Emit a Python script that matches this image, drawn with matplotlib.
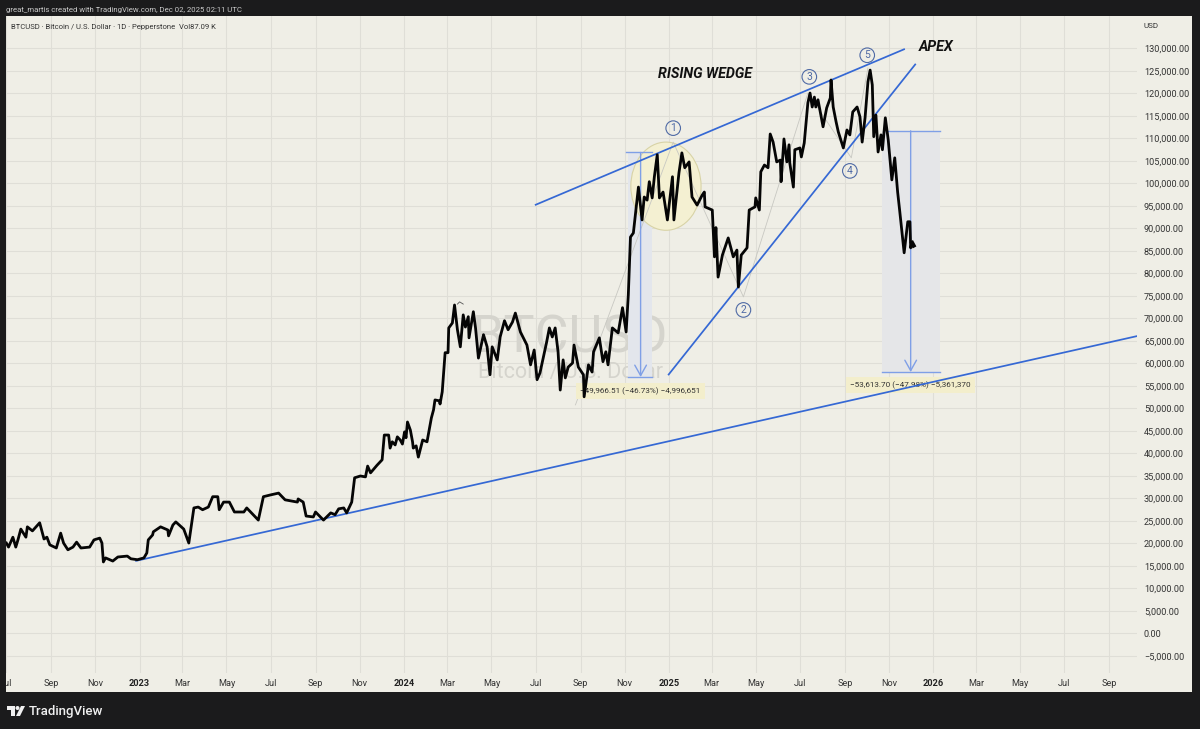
import numpy as np
import matplotlib
matplotlib.use("Agg")
import matplotlib.pyplot as plt
import matplotlib.dates as mdates
from matplotlib.patches import Ellipse, Rectangle, Polygon
from matplotlib.transforms import Bbox

# ---------- data (days since 2023-01-01, price in thousand USD) ----------
days = [-184,-181,-175,-171,-168,-164,-157,-155,-148,-138,-132,-128,-124,-115,-109,-105,-99,-92,-87,-81,-69,-63,-55,-52,-50,-47,-37,-30,-17,-12,-3,6,10,12,18,19,29,39,40,46,50,61,68,75,81,87,95,101,108,110,116,124,131,144,148,164,171,181,192,201,218,219,226,230,240,243,254,264,270,275,282,286,293,297,305,312,315,319,328,335,338,344,346,349,353,356,360,363,366,368,370,374,377,378,382,385,391,397,403,406,408,414,415,418,422,426,427,432,435,439,443,447,450,454,455,461,464,468,475,480,484,487,494,498,504,509,515,519,526,535,540,545,549,553,562,566,570,574,578,581,585,588,592,598,600,606,613,614,620,625,627,635,640,644,647,653,661,667,672,675,678,682,684,689,694,697,701,704,708,711,715,718,723,729,736,738,745,749,753,759,763,770,777,780,781,791,794,796,799,805,813,820,825,827,831,839,842,850,851,856,858,863,868,871,875,880,885,886,890,894,897,898,903,905,912,914,918,923,926,929,932,934,937,944,949,954,955,958,962,965,972,977,981,985,991,995,998,1002,1006,1009,1012,1014,1017,1020,1024,1026,1030,1034,1039,1043,1047,1050,1056,1061,1064,1065,1067,1069]
price_k = [20.1,19.2,21.4,19.2,20.8,23.2,21.4,23.7,22.8,24.6,21.0,21.4,19.7,19.0,22.3,20.1,18.6,19.2,20.3,19.0,19.2,20.8,21.2,20.1,15.9,16.8,16.1,17.0,17.2,16.6,16.4,16.8,17.9,20.8,21.9,22.6,23.7,23.0,21.7,24.1,24.8,23.2,20.1,27.9,28.1,27.5,28.1,30.4,30.4,27.5,29.2,29.2,27.0,27.0,27.9,25.2,30.4,30.8,31.2,29.7,29.2,29.9,29.2,26.1,25.9,27.0,25.2,26.8,26.4,27.7,27.9,26.8,29.2,34.6,35.0,34.8,37.2,35.7,37.4,38.6,44.1,44.1,41.2,42.6,41.9,43.7,43.0,42.1,44.8,43.5,47.0,45.2,42.6,41.2,41.7,39.2,43.0,42.6,47.9,49.7,51.9,51.7,51.0,53.7,62.4,62.4,67.9,69.0,73.0,67.5,63.7,70.8,68.1,70.4,65.7,71.5,67.9,61.2,66.4,63.7,57.5,63.7,60.8,65.9,69.5,67.5,69.2,71.2,67.0,64.1,59.7,63.0,56.4,57.9,64.6,67.9,65.9,67.9,62.6,54.1,60.8,56.8,59.2,60.1,64.1,59.2,57.5,52.6,59.7,58.1,62.6,65.7,60.4,62.6,59.7,67.9,66.8,72.4,67.0,75.2,88.1,89.0,91.9,99.2,91.9,97.0,96.3,100.4,96.8,101.5,106.4,96.8,98.1,91.9,101.5,91.9,102.4,106.8,103.5,104.8,97.0,95.2,97.4,98.1,94.8,94.1,83.7,90.2,79.2,84.1,87.9,83.7,85.2,77.0,84.1,85.7,94.1,94.8,96.8,94.1,102.6,104.1,103.5,111.0,109.2,104.8,105.2,100.4,109.9,104.8,108.6,104.6,99.2,107.5,107.9,105.9,109.0,117.9,120.1,117.0,119.2,117.0,118.6,112.6,116.8,119.0,123.0,117.0,113.7,111.5,107.9,111.9,110.8,115.9,117.0,114.8,109.2,114.6,122.6,125.2,121.9,110.4,115.2,107.0,110.8,107.5,114.6,109.7,100.8,105.7,98.1,93.7,84.6,91.5,91.5,85.7,86.8,86.2]

support_days, support_k = [-6, 1378], [16.1, 66.1]
upper_days, upper_k = [546, 1057], [95.2, 129.9]
lower_days, lower_k = [730, 1072], [57.4, 126.6]
wave_days = [602, 737, 834, 923, 983, 1006]
wave_k = [50.8, 109.2, 74.8, 120.1, 105.7, 125.7]
wave_labels = ["1", "2", "3", "4", "5"]
wave_label_days = [737, 834, 925, 981, 1005]
wave_label_k = [112.3, 71.9, 123.7, 102.8, 128.5]
caret_days, caret_k = [439, 442, 447], [73.2, 73.7, 73.2]

price_ticks = list(range(-5000, 130001, 5000))
tick_dates = ["2022-07-01","2022-09-01","2022-11-01","2023-01-01","2023-03-01","2023-05-01","2023-07-01","2023-09-01","2023-11-01","2024-01-01","2024-03-01","2024-05-01","2024-07-01","2024-09-01","2024-11-01","2025-01-01","2025-03-01","2025-05-01","2025-07-01","2025-09-01","2025-11-01","2026-01-01","2026-03-01","2026-05-01","2026-07-01","2026-09-01"]
tick_names = ["Jul","Sep","Nov","2023","Mar","May","Jul","Sep","Nov","2024","Mar","May","Jul","Sep","Nov","2025","Mar","May","Jul","Sep","Nov","2026","Mar","May","Jul","Sep"]

# ---------- style ----------
W, H = 1200, 729
DARK = "#1b1b1c"; PANEL = "#efeee6"; GRID = "#dfded7"; BLUE = "#3568d4"; MEAS = "#7f9fe6"
TXT = "#333333"; NODE = "#4f6aa5"
plt.rcParams["font.family"] = ["Roboto", "DejaVu Sans"]

base = mdates.date2num(np.datetime64("2023-01-01"))
X = lambda d: base + np.asarray(d, dtype=float)
fig = plt.figure(figsize=(W/100, H/100), dpi=100, facecolor=DARK)
px = lambda x0, y0, x1, y1: [x0/W, 1-y1/H, (x1-x0)/W, (y1-y0)/H]

fig.patches.append(Rectangle((6/W, 1-692/H), 1186/W, 676/H, transform=fig.transFigure, fc=PANEL, ec="none", zorder=-5))
ax = fig.add_axes(px(6, 16, 1137, 673), facecolor=PANEL)
ax.set_xlim(X(-184.5), X(1377.6))
ax.set_ylim(-8.78, 137.22)
for s in ax.spines.values():
    s.set_visible(False)
ax.set_axisbelow(True)
ax.grid(True, color=GRID, lw=0.8)

ax.yaxis.tick_right()
ax.set_yticks([p/1000 for p in price_ticks])
ax.set_yticklabels([f"{p:,.2f}".replace("-", "\u2212") for p in price_ticks], fontsize=6.6, color=TXT)
ax.set_xticks(mdates.date2num(np.array(tick_dates, dtype="datetime64[D]")))
ax.set_xticklabels(tick_names, fontsize=6.6, color=TXT)
ax.tick_params(axis="both", length=0)
ax.tick_params(axis="y", pad=5)
ax.tick_params(axis="x", pad=4.5)
for lab, name in zip(ax.get_xticklabels(), tick_names):
    if name.isdigit():
        lab.set_fontweight("bold"); lab.set_color("#222222")
first = ax.get_xticklabels()[0]
first.set_clip_box(Bbox([[6, 0], [60, H]]))
first.set_clip_on(True)

# watermark
ax.text(X(595), 65.6, "BTCUSD", fontsize=37.5, color="#d5d4cd", ha="center", va="center", zorder=1)
ax.text(X(595), 58.0, "Bitcoin / U.S. Dollar", fontsize=15.5, color="#d5d4cd", ha="center", va="center", zorder=1)

# measure tools
def measure(d0, d1, dmid, top, bottom, line0, shade, label, ldays, lk):
    ax.add_patch(Rectangle((X(d0), bottom), d1-d0, top-bottom, fc=shade, ec="none", zorder=1.5))
    ax.plot(X([line0, d1]), [top, top], color=MEAS, lw=1.0, zorder=3)
    ax.plot(X([d0, d1]), [bottom, bottom], color=MEAS, lw=1.0, zorder=3)
    ax.annotate("", xy=(X(dmid), bottom), xytext=(X(dmid), top), zorder=3,
                arrowprops=dict(arrowstyle="->,head_width=0.42,head_length=0.75", color=MEAS, lw=1.0, shrinkA=0, shrinkB=0))
    ax.text(X(ldays), lk, label, fontsize=5.9, color=TXT, ha="center", va="center", zorder=2.5,
            bbox=dict(fc="#f3eecc", ec="none", boxstyle="square,pad=0.55"))

measure(674, 708, 692, 106.9, 57.0, 672, "#e3e6ec",
        "\u221249,966.51 (\u221246.73%) \u22124,996,651", 692, 53.9)
measure(1026, 1105, 1065, 111.7, 58.1, 1033, "#e5e6e8",
        "\u221253,613.70 (\u221247.98%) \u22125,361,370", 1065, 55.2)

# highlighted ellipse
ax.add_patch(Ellipse((X(727), 99.4), 97, 19.6, fc="#f4f0d2", ec="#d8d3a6", lw=0.8, zorder=1.8))

# wave lines and labels
ax.plot(X(wave_days), wave_k, color="#c8c8c2", lw=0.6, zorder=2)
ax.plot(X(caret_days), caret_k, color="#555555", lw=0.6, zorder=2)
for lbl, d, k in zip(wave_labels, wave_label_days, wave_label_k):
    ax.text(X(d), k, lbl, fontsize=7.5, color=NODE, ha="center", va="center", zorder=5,
            bbox=dict(boxstyle="circle,pad=0.22", fc="none", ec=NODE, lw=0.8))

# trend lines
for dd, kk in [(support_days, support_k), (upper_days, upper_k), (lower_days, lower_k)]:
    ax.plot(X(dd), kk, color=BLUE, lw=1.25, zorder=3.5, solid_capstyle="butt")

# price
ax.plot(X(days), price_k, color="#050505", lw=2.0, zorder=4, solid_joinstyle="round")
ax.plot(X(days[-2:]), price_k[-2:], color="#050505", lw=3, zorder=4)

# annotations
ax.text(X(781), 124.4, "RISING WEDGE", fontsize=10.3, fontweight="bold", style="italic", color="#111111", ha="center", va="center", zorder=5)
ax.text(X(1100), 130.4, "APEX", fontsize=10.3, fontweight="bold", style="italic", color="#111111", ha="center", va="center", zorder=5)

# chrome texts (pixel placed)
t = lambda x, y, s, **kw: fig.text(x/W, 1-y/H, s, va="center", **kw)
t(6, 10, "great_martis created with TradingView.com, Dec 02, 2025 02:11 UTC", fontsize=5.6, color="#c9c9c9")
t(11, 26.5, "BTCUSD \u00b7 Bitcoin / U.S. Dollar \u00b7 1D \u00b7 Pepperstone  Vol87.09 K", fontsize=5.5, color=TXT)
t(1144, 26.5, "USD", fontsize=5.8, color=TXT)
t(29, 711, "TradingView", fontsize=9.5, color="#f0f0f0", fontweight="medium")

# logo
logo = fig.add_axes(px(7, 706, 25, 716)); logo.set_xlim(0, 18); logo.set_ylim(10, 0); logo.axis("off")
logo.add_patch(Polygon([(0,0),(8,0),(8,10),(4,10),(4,4),(0,4)], fc="#f0f0f0", ec="none"))
logo.add_patch(Ellipse((10.5,2), 4, 4, fc="#f0f0f0", ec="none"))
logo.add_patch(Polygon([(14,0),(18,0),(13,10),(9,10)], fc="#f0f0f0", ec="none"))

fig.savefig("out.png", dpi=100, facecolor=DARK)
